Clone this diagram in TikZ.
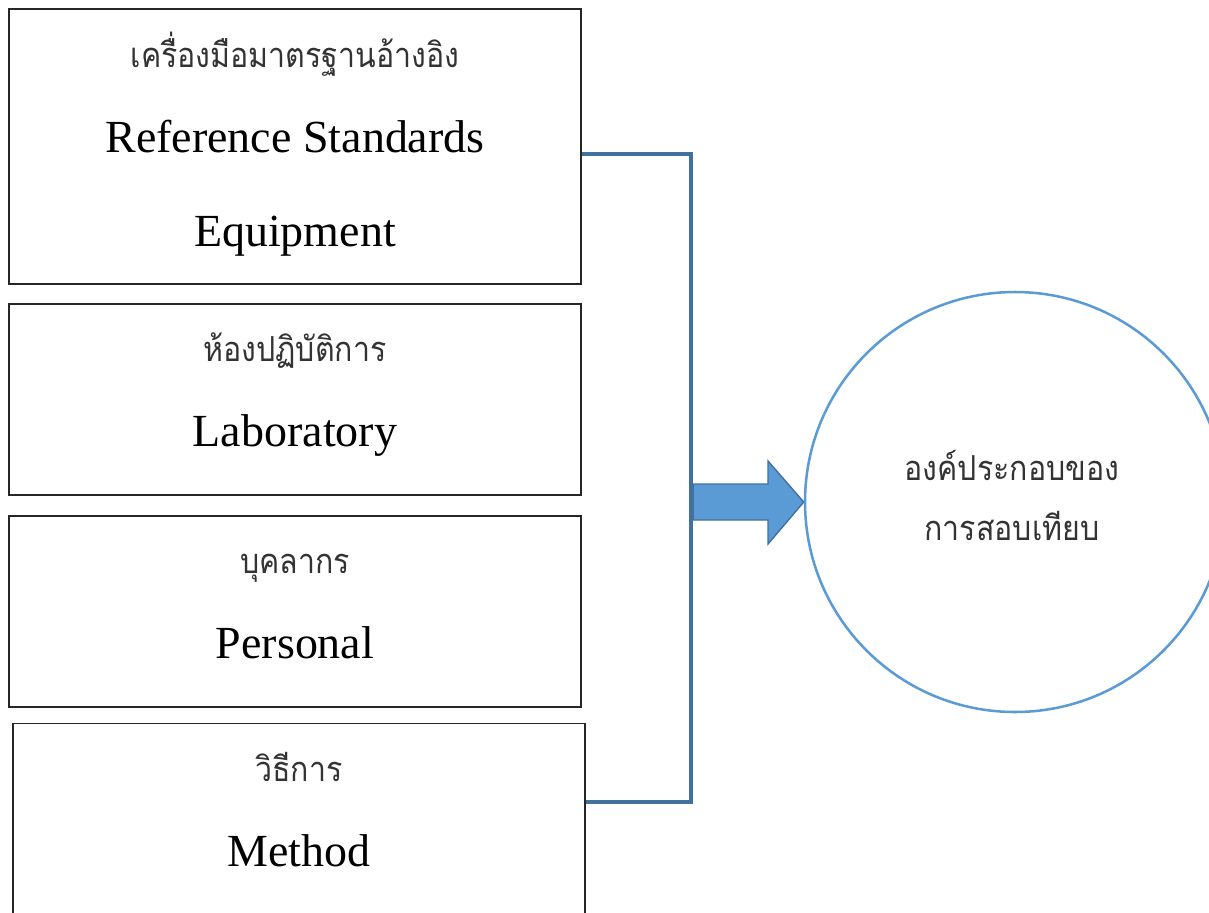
\documentclass[tikz,border=0pt]{standalone}
\usepackage{fontspec}
\setmainfont{Liberation Serif}
\newfontfamily\thaifont[Script=Thai,FakeStretch=0.88]{Loma}
\usetikzlibrary{positioning,calc}
\definecolor{linkblue}{HTML}{41719C}
\definecolor{fillblue}{HTML}{5B9BD5}

\begin{document}
\begin{tikzpicture}[node distance=0.5cm,
	box/.style={rectangle,draw=black!85,line width=1.3pt,minimum width=14.3cm,inner sep=0pt},
	th/.style={anchor=base,text=black!80,font=\thaifont\fontsize{24.5}{28}\selectfont},
	en/.style={anchor=base,font=\fontsize{32.7}{38}\selectfont},
	link/.style={draw=linkblue,line width=2.6pt},
	goal/.style={circle,draw=fillblue,line width=1.8pt,minimum size=10.5cm,inner sep=0pt},
	fat/.style={fill=fillblue,draw=linkblue,line width=1pt,line join=miter}]
					\useasboundingbox (0,0) rectangle (30.225,-22.8);
					
					\node[box,minimum height=6.875cm] (ref)  at (7.375,-3.6625) {};
					\node[box,minimum height=4.775cm] (lab)  [below=0.45cm of ref] {};
					\node[box,minimum height=4.775cm] (pers) [below=0.475cm of lab] {};
					\node[box,minimum height=4.85cm]  (meth) [below=0.375cm of pers,xshift=0.1cm] {};
					
					\node[th] (refth) at ([yshift=-1.475cm]ref.north) {เครื่องมือมาตรฐานอ้างอิง};
					\node[en] (refen) at ([yshift=-3.6cm]ref.north)   {Reference Standards};
					\node[en] (refeq) at ([yshift=-5.95cm]ref.north)  {Equipment};
					\node[th] (labth) at ([yshift=-1.475cm]lab.north) {ห้องปฏิบัติการ};
					\node[en] (laben) at ([yshift=-3.6cm]lab.north)   {Laboratory};
					\node[th] (persth) at ([yshift=-1.475cm]pers.north) {บุคลากร};
					\node[en] (persen) at ([yshift=-3.6cm]pers.north)   {Personal};
					\node[th] (methth) at ([yshift=-1.475cm]meth.north) {วิธีการ};
					\node[en] (methen) at ([yshift=-3.6cm]meth.north)   {Method};
					
					\node[goal] (comp) at (25.375,-12.55) {};
					\node[th] (compa) at ([xshift=-0.075cm,yshift=0.55cm]comp.center)  {องค์ประกอบของ};
					\node[th] (compb) at ([xshift=-0.075cm,yshift=-0.95cm]comp.center) {การสอบเทียบ};
					
					\coordinate (bartop) at (17.275,-3.85);
					\coordinate (barbot) at (17.275,-20.05);
					\coordinate (join)   at (17.33,-12.55);
					
					\draw[link] (bartop -| ref.east) -- (bartop) -- (barbot) -- (barbot -| meth.east);
					\draw[fat] (join) ++(0,0.45) -- ++(1.87,0) -- ++(0,0.575) -- (comp.west)
						-- ($(join)+(1.87,-1.05)$) -- ++(0,0.6) -- ++(-1.87,0) -- cycle;
				\end{tikzpicture}
\end{document}
